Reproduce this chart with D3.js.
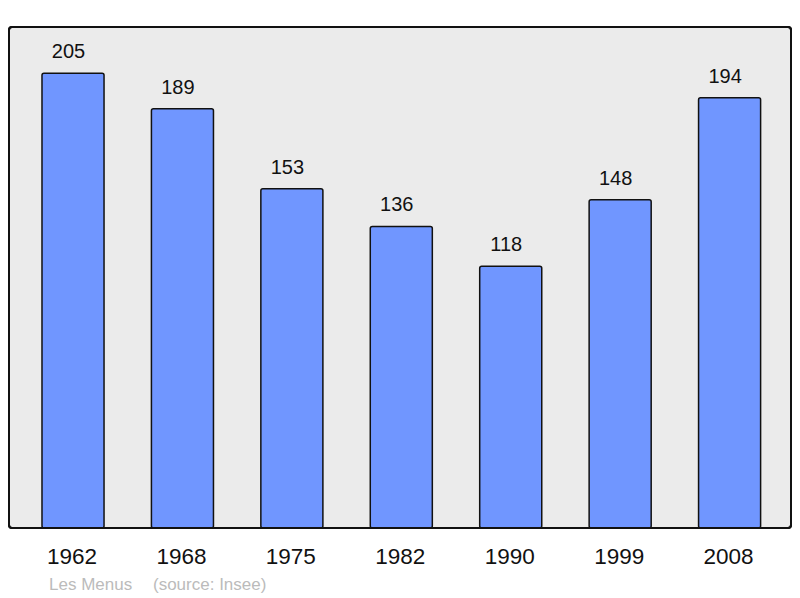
<!DOCTYPE html>
<html><head><meta charset="utf-8">
<script src="https://cdn.jsdelivr.net/npm/d3@7"></script>
<style>body{margin:0;background:#fff}svg{display:block;font-family:"Liberation Sans",Arial,sans-serif}</style>
</head><body>
<script>
const years = ["1962","1968","1975","1982","1990","1999","2008"];
const population = [205,189,153,136,118,148,194];
const footerTexts = ["Les Menus","(source: Insee)"];

const W=800,H=598;
const svg=d3.select("body").append("svg").attr("width",W).attr("height",H);
const panel={x:9,y:27,w:782,h:501};
svg.append("rect").attr("x",panel.x).attr("y",panel.y).attr("width",panel.w).attr("height",panel.h)
  .attr("rx",3).attr("fill","#ebebeb").attr("stroke","#111").attr("stroke-width",2);

const x=d3.scaleBand().domain(years).range([18.3,784.3]).paddingInner(0.433).paddingOuter(0.2165);
const y=d3.scaleLinear().domain([0,225.9]).range([528,27]);

svg.selectAll("rect.bar").data(population).join("rect").attr("class","bar")
  .attr("x",(d,i)=>x(years[i])).attr("width",x.bandwidth())
  .attr("y",d=>y(d)).attr("height",d=>y(0)-y(d))
  .attr("rx",2).attr("fill","#7096ff").attr("stroke","#111").attr("stroke-width",1.5);

svg.selectAll("text.val").data(population).join("text").attr("class","val")
  .attr("x",(d,i)=>x(years[i])+x.bandwidth()/2-4.5).attr("y",d=>y(d)-15)
  .attr("text-anchor","middle").attr("font-size",20).attr("fill","#111").text(d=>d);

svg.append("rect").attr("x",panel.x).attr("y",panel.y).attr("width",panel.w).attr("height",panel.h)
  .attr("rx",3).attr("fill","none").attr("stroke","#111").attr("stroke-width",2);

svg.selectAll("text.yr").data(years).join("text").attr("class","yr")
  .attr("x",d=>x(d)+x.bandwidth()/2-1).attr("y",564)
  .attr("text-anchor","middle").attr("font-size",22.5).attr("fill","#111").text(d=>d);

svg.append("text").attr("x",49).attr("y",590).attr("font-size",17).attr("fill","#bbb").text(footerTexts[0]);
svg.append("text").attr("x",153).attr("y",590).attr("font-size",17).attr("fill","#bbb").text(footerTexts[1]);
</script>
</body></html>
